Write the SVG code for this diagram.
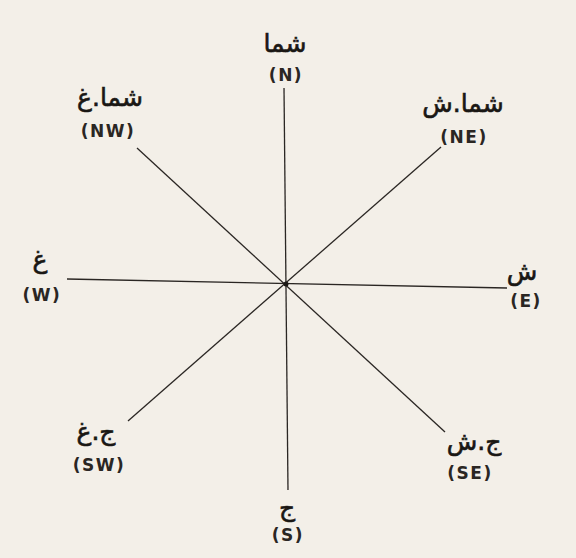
<svg xmlns="http://www.w3.org/2000/svg" width="576" height="558" viewBox="0 0 576 558">
<style>
.ar{font-family:"DejaVu Sans","Noto Sans",sans-serif;font-size:25px;fill:#1a1714;stroke:#1a1714;stroke-width:0.6;text-anchor:middle}
.en{font-family:"DejaVu Sans","Liberation Sans",sans-serif;font-size:17px;font-weight:bold;fill:#2a2623;text-anchor:middle;letter-spacing:1.5px}
.ln{stroke:#2a2623;stroke-width:1.3;fill:none}
</style>
<rect x="0" y="0" width="576" height="558" fill="#f3efe8"/>
<g id="connectors">
<line class="ln" x1="284" y1="88" x2="288" y2="490"/>
<line class="ln" x1="67" y1="279" x2="507" y2="288"/>
<line class="ln" x1="137" y1="148" x2="445" y2="432"/>
<line class="ln" x1="441" y1="147" x2="128" y2="421"/>
</g>
<g id="center"><circle cx="286" cy="284" r="2.5" fill="#1a1714"/></g>
<g id="N"><text class="ar" x="285" y="52" direction="rtl">شما</text><text class="en" x="286" y="81">(N)</text></g>
<g id="NW"><text class="ar" x="110" y="106" direction="rtl">شما.غ</text><text class="en" x="108" y="137">(NW)</text></g>
<g id="NE"><text class="ar" x="463" y="112" direction="rtl">شما.ش</text><text class="en" x="464" y="143">(NE)</text></g>
<g id="W"><text class="ar" x="40" y="268" direction="rtl">غ</text><text class="en" x="42" y="301">(W)</text></g>
<g id="E"><text class="ar" x="522" y="280" direction="rtl">ش</text><text class="en" x="526" y="307">(E)</text></g>
<g id="SW"><text class="ar" x="96" y="440" direction="rtl">ج.غ</text><text class="en" x="99" y="471">(SW)</text></g>
<g id="SE"><text class="ar" x="474" y="450" direction="rtl">ج.ش</text><text class="en" x="470" y="479">(SE)</text></g>
<g id="S"><text class="ar" x="287" y="516" direction="rtl">ج</text><text class="en" x="288" y="541">(S)</text></g>
</svg>
